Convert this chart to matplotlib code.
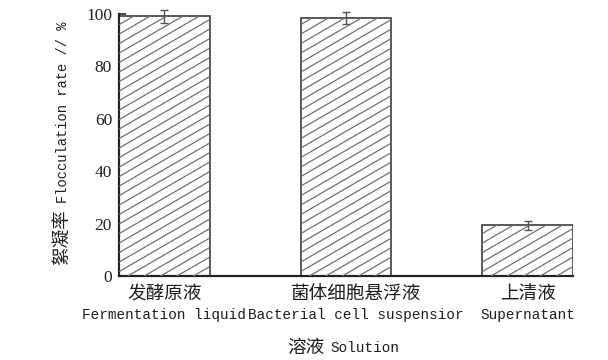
import numpy as np
import matplotlib
matplotlib.use("Agg")
import matplotlib.pyplot as plt
from matplotlib.collections import LineCollection
from matplotlib.transforms import IdentityTransform

# Data
categories_cn = ["发酵原液", "菌体细胞悬浮液", "上清液"]
categories_en = ["Fermentation liquid", "Bacterial cell suspensior", "Supernatant"]
rates = [99.0, 98.3, 19.4]
errors = [2.5, 2.2, 1.7]
yticks = [0, 20, 40, 60, 80, 100]

CJK = "Noto Sans CJK SC"
MONO = "Liberation Mono"
SERIF = "Liberation Serif"
INK = "#1e1e1e"

W, H = 608, 360
fig = plt.figure(figsize=(W / 100, H / 100), dpi=100)
fig.patch.set_facecolor("white")
ax = fig.add_axes([119 / W, (H - 276) / H, (573 - 119) / W, (276 - 13.5) / H])

x = np.arange(len(rates))
bars = ax.bar(x, rates, width=0.5, color="white", edgecolor="#3c3c3c",
              linewidth=1.2, zorder=2)
eb = ax.errorbar(x, rates, yerr=errors, fmt="none", ecolor="#555555",
                 elinewidth=1.0, capsize=3, capthick=1.0, zorder=4)
for art in eb.lines[1] + eb.lines[2]:
    art.set_clip_on(False)

ax.set_xlim(-0.25, 2.25)
ax.set_ylim(0, 100)

# Diagonal hatching drawn in pixel space, clipped to each bar
slope, step = 0.58, 9.5
for b in bars:
    (px0, py0), (px1, py1) = ax.transData.transform(
        [(b.get_x(), 0), (b.get_x() + b.get_width(), b.get_height())])
    w = px1 - px0
    segs = []
    c = -slope * w
    while c < (py1 - py0) + step:
        segs.append([(px0, py0 + c), (px1, py0 + c + slope * w)])
        c += step
    lc = LineCollection(segs, colors="#707070", linewidths=0.9,
                        transform=IdentityTransform(), zorder=3)
    ax.add_collection(lc)
    lc.set_clip_path(b)

for side in ("top", "right"):
    ax.spines[side].set_visible(False)
for side in ("left", "bottom"):
    ax.spines[side].set_linewidth(1.6)
    ax.spines[side].set_color("#222222")

ax.set_yticks(yticks)
ax.set_yticklabels([str(v) for v in yticks], fontfamily=SERIF, fontsize=12.5,
                   color=INK)
ax.tick_params(axis="y", direction="in", length=5, width=1.2, pad=5,
               colors="#222222")
ax.set_xticks(x)
ax.set_xticklabels([])
ax.tick_params(axis="x", length=0)

# Two-line category labels: Chinese above, English below
label_shift = [0, 10, 0]
for xi, cn, en, dx in zip(x, categories_cn, categories_en, label_shift):
    ax.annotate(cn, xy=(xi, 0), xycoords=("data", "axes fraction"),
                xytext=(dx / 1.389, -18 / 1.389), textcoords="offset points",
                ha="center", va="center", fontfamily=CJK, fontsize=13.4,
                color=INK)
    ax.annotate(en, xy=(xi, 0), xycoords=("data", "axes fraction"),
                xytext=(dx / 1.389, -39 / 1.389), textcoords="offset points",
                ha="center", va="center", fontfamily=MONO, fontsize=10.4,
                color=INK)

# Axis titles
fig.text(306 / W, 1 - 348 / H, "溶液", fontfamily=CJK, fontsize=13.4,
         ha="center", va="center", color=INK)
fig.text(365 / W, 1 - 348 / H, "Solution", fontfamily=MONO, fontsize=10.4,
         ha="center", va="center", color=INK)
fig.text(63 / W, 1 - 237 / H, "絮凝率", fontfamily=CJK, fontsize=13.4,
         rotation=90, ha="center", va="center", color=INK)
fig.text(63 / W, 1 - 112 / H, "Flocculation rate // %", fontfamily=MONO,
         fontsize=9.9, rotation=90, ha="center", va="center", color=INK)

fig.savefig("out.png", dpi=100, facecolor="white")
